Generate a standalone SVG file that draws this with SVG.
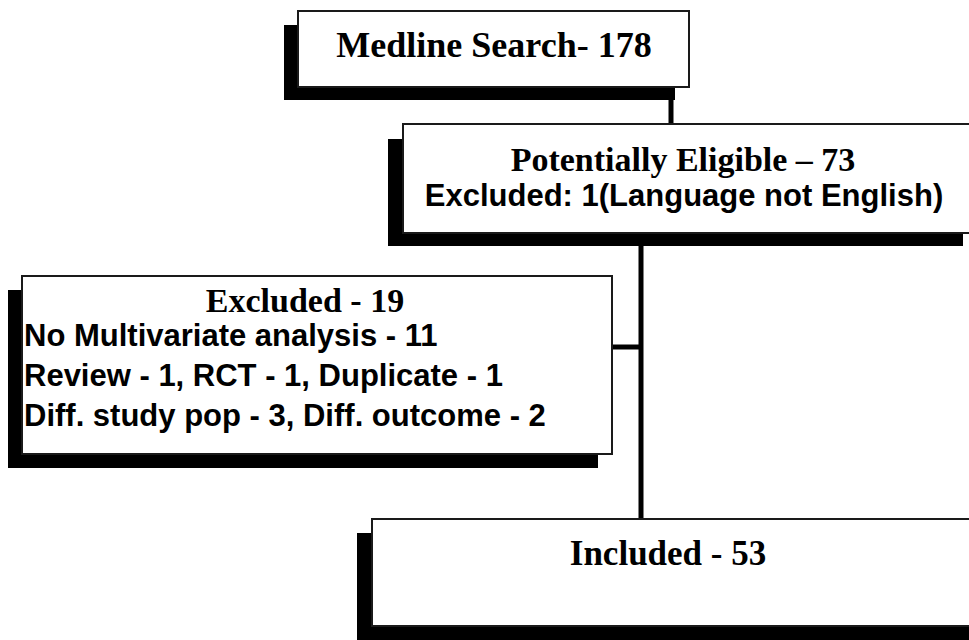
<svg xmlns="http://www.w3.org/2000/svg" width="969" height="640" viewBox="0 0 969 640">
<style>
.shadow{fill:#000}
.box{fill:#fff;stroke:#1a1a1a;stroke-width:2}
.conn{stroke:#000;stroke-width:5;fill:none}
.head{font-family:"Liberation Serif","Times New Roman",serif;font-weight:bold;fill:#000}
.body{font-family:"Liberation Sans",Arial,sans-serif;font-weight:bold;font-size:31px;fill:#000}
</style>
<rect width="969" height="640" fill="#fff"/>
<g id="connectors">
<line class="conn" x1="671" y1="100" x2="671" y2="124"/>
<line class="conn" x1="641" y1="245" x2="641" y2="519"/>
<line class="conn" x1="612" y1="347" x2="641" y2="347"/>
</g>
<g id="medline">
<rect class="shadow" x="284" y="25" width="391" height="75"/>
<rect class="box" x="298" y="11" width="391" height="76"/>
<text class="head" x="494" y="57" font-size="36" text-anchor="middle">Medline Search- 178</text>
</g>
<g id="eligible">
<rect class="shadow" x="388" y="139" width="575" height="107"/>
<rect class="box" x="403" y="124" width="580" height="109"/>
<text class="head" x="683" y="171" font-size="34" text-anchor="middle">Potentially Eligible – 73</text>
<text class="body" x="684" y="206" text-anchor="middle">Excluded: 1(Language not English)</text>
</g>
<g id="excluded">
<rect class="shadow" x="8" y="290" width="590" height="178"/>
<rect class="box" x="22" y="276" width="590" height="178"/>
<text class="head" x="305" y="312" font-size="34" text-anchor="middle">Excluded - 19</text>
<text class="body" x="24" y="346">No Multivariate analysis - 11</text>
<text class="body" x="24" y="386">Review - 1, RCT - 1, Duplicate - 1</text>
<text class="body" x="24" y="426">Diff. study pop - 3, Diff. outcome - 2</text>
</g>
<g id="included">
<rect class="shadow" x="357" y="533" width="612" height="110"/>
<rect class="box" x="372" y="519" width="610" height="107"/>
<text class="head" x="668" y="565" font-size="35" text-anchor="middle">Included - 53</text>
</g>
</svg>
